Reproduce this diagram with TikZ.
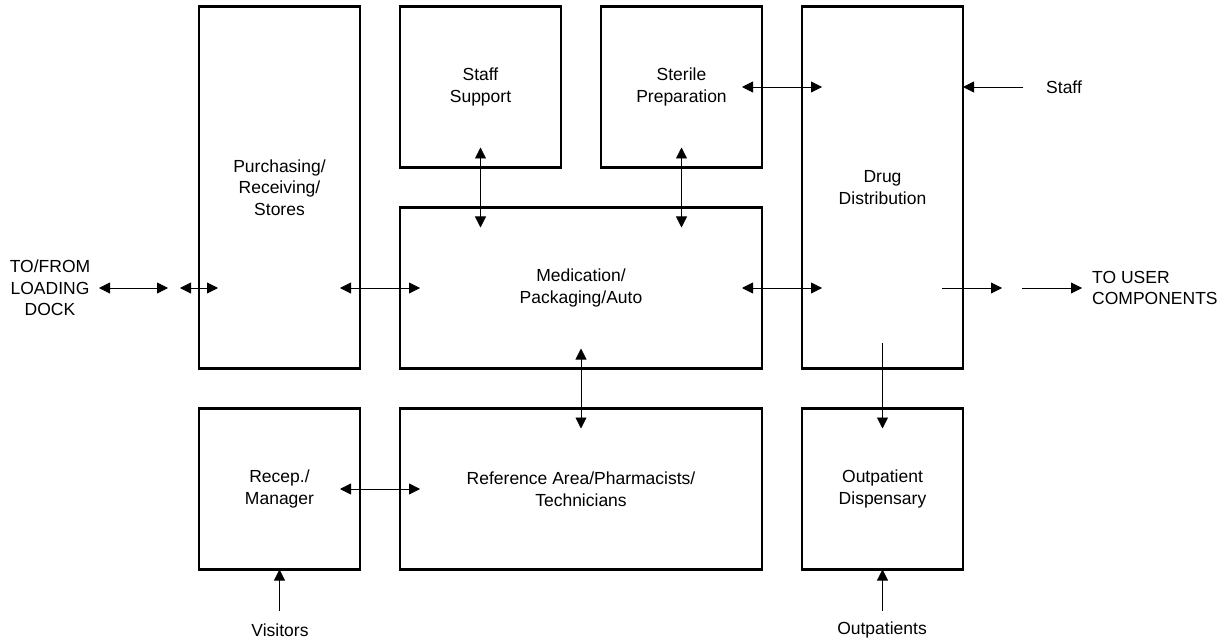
\documentclass[tikz,border=0pt]{standalone}
\usepackage{fontspec}
\setmainfont{Liberation Sans}
\usetikzlibrary{positioning, arrows.meta, calc}

\begin{document}
\begin{tikzpicture}[
    x=1pt, y=-1pt,
    node distance=40pt,
    every node/.style={font=\fontsize{17.5}{21.5}\selectfont},
    box/.style={draw=black, line width=2.6pt, outer sep=0pt, align=center, minimum width=161pt, minimum height=161pt},
    tallbox/.style={box, minimum height=362pt},
    widebox/.style={box, minimum width=362pt},
    lbl/.style={align=center, inner sep=0pt},
    line/.style={draw, line width=0.8pt, -{Triangle[length=11pt, width=11pt]}},
    biline/.style={line, {Triangle[length=11pt, width=11pt]}-{Triangle[length=11pt, width=11pt]}}
]
\useasboundingbox (0,0) rectangle (1231,644);

% Boxes
\node[tallbox] (purch) at (279.5,187.5) {Purchasing/\\Receiving/\\Stores};
\node[box, right=of purch.north east, anchor=north west] (staff) {Staff\\Support};
\node[box, right=of staff.north east, anchor=north west] (sterile) {Sterile\\Preparation};
\node[tallbox, right=of sterile.north east, anchor=north west] (drug) {Drug\\Distribution};
\node[widebox, below=of staff.south west, anchor=north west] (med) {Medication/\\Packaging/Auto};
\node[box, below=of purch.south west, anchor=north west] (recep) {Recep./\\Manager};
\node[widebox, right=of recep.north east, anchor=north west] (refarea) {Reference Area/Pharmacists/\\Technicians};
\node[box, right=of refarea.north east, anchor=north west] (outpt) {Outpatient\\Dispensary};

% Outside labels
\node[lbl] (dock) at (50,288) {TO/FROM\\LOADING\\DOCK};
\node[lbl, anchor=west, align=left] (user) at (1092,288) {TO USER\\COMPONENTS};
\node[lbl, anchor=west] (stafflbl) at (1046,87) {Staff};
\node[lbl] (visitors) at (280,630) {Visitors};
\node[lbl] (outpts) at (882,630) {Outpatients};

% Connectors
\draw[biline] ($(purch.west |- med.west)+(-100,0)$) -- ($(purch.west |- med.west)+(-31,0)$);
\draw[biline] ($(purch.west |- med.west)+(-19,0)$) -- ($(purch.west |- med.west)+(19,0)$);
\draw[biline] ($(purch.east |- med.west)+(-20,0)$) -- ($(med.west)+(20,0)$);
\draw[biline] ($(med.east)+(-20,0)$) -- ($(drug.west |- med.east)+(20,0)$);
\draw[line] ($(drug.east |- med.east)+(-21,0)$) -- ($(drug.east |- med.east)+(39,0)$);
\draw[line] ($(user.west)+(-70,0)$) -- ($(user.west)+(-10,0)$);
\draw[biline] ($(staff.south)+(0,-20)$) -- ($(med.north -| staff.south)+(0,20)$);
\draw[biline] ($(sterile.south)+(0,-20)$) -- ($(med.north -| sterile.south)+(0,20)$);
\draw[biline] ($(sterile.east)+(-20,0)$) -- ($(drug.west |- sterile.east)+(20,0)$);
\draw[line] ($(stafflbl.west)+(-23,0)$) -- (drug.east |- stafflbl.west);
\draw[biline] ($(med.south)+(0,-20)$) -- ($(refarea.north)+(0,20)$);
\draw[line] ($(drug.south)+(0,-26)$) -- ($(outpt.north)+(0,20)$);
\draw[biline] ($(recep.east)+(-20,0)$) -- ($(refarea.west)+(20,0)$);
\draw[line] ($(recep.south)+(0,41)$) -- (recep.south);
\draw[line] ($(outpt.south)+(0,41)$) -- (outpt.south);

\end{tikzpicture}
\end{document}
